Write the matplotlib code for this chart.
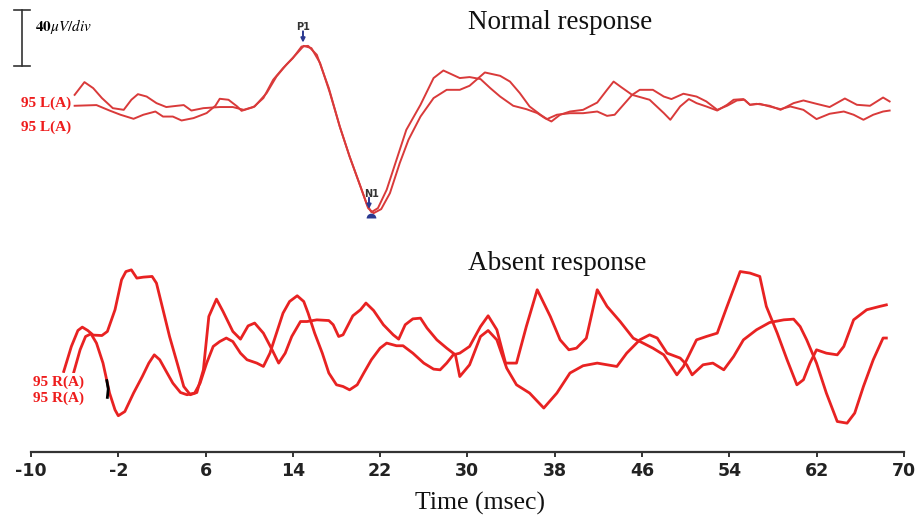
import numpy as np
import matplotlib
matplotlib.use("Agg")
import matplotlib.pyplot as plt
from matplotlib.markers import MarkerStyle

plt.rcParams['axes.unicode_minus'] = False
plt.rcParams['mathtext.fontset'] = 'stix'

# time (msec), amplitude (uV)
normal_a = [(-6.0, 7.1), (-5.1, 16.2), (-4.3, 11.9), (-3.5, 4.8), (-2.5, -2.4), (-1.5, -3.6),
            (-0.8, 3.6), (-0.2, 7.6), (0.6, 5.9), (1.5, 1.2), (2.4, -1.6), (3.4, -0.7),
            (4.0, -0.2), (4.7, -4.1), (5.8, -2.4), (7.3, -1.6), (8.5, -1.6), (9.5, -3.6),
            (10.5, -1.2), (11.6, 8.4), (12.5, 20.2), (13.4, 28.6), (14.4, 36.9), (15.0, 42.1),
            (15.7, 40.5), (16.5, 29.8), (17.4, 8.4), (18.3, -15.5), (19.2, -36.9), (20.2, -58.4),
            (20.8, -71.4), (21.2, -76.7), (21.8, -73.8), (22.6, -60.7), (23.5, -39.3),
            (24.4, -17.9), (25.7, 0.0), (26.9, 19.1), (27.8, 24.5), (29.3, 19.1), (30.2, 19.8),
            (31.2, 18.4), (32.1, 11.9), (33.0, 5.9), (34.2, -0.7), (35.4, -3.1), (36.4, -5.9),
            (37.1, -9.5), (37.7, -11.9), (38.5, -7.1), (39.4, -4.8), (40.6, -3.6), (41.9, 1.6),
            (42.8, 10.7), (43.4, 16.6), (44.1, 12.6), (45.1, 7.1), (46.7, 3.6), (48.0, -5.9),
            (48.6, -10.7), (49.5, -1.2), (50.3, 4.1), (51.0, 1.2), (51.9, -1.2), (52.9, -4.1),
            (53.8, 0.0), (54.4, 3.6), (55.3, 4.1), (55.9, 0.0), (56.8, 0.7), (57.7, -1.2),
            (58.7, -3.1), (59.6, -1.2), (60.8, -3.6), (62.0, -10.2), (63.2, -6.4), (64.5, -4.8),
            (65.4, -7.1), (66.3, -10.7), (67.2, -7.1), (68.1, -4.8), (68.7, -4.1)]

normal_b = [(-6.0, -0.7), (-4.0, -0.2), (-2.8, -4.1), (-1.8, -7.1), (-0.6, -10.0), (0.3, -7.1),
            (1.4, -4.8), (2.1, -8.4), (3.0, -8.4), (3.8, -11.2), (4.9, -9.5), (6.1, -5.9),
            (6.9, -0.7), (7.3, 4.3), (8.1, 3.6), (8.9, -1.2), (9.3, -4.3), (10.4, -1.6),
            (11.3, 4.8), (12.2, 17.9), (13.1, 26.2), (14.0, 33.3), (14.8, 41.6), (15.4, 42.1),
            (16.2, 35.7), (17.3, 11.9), (18.3, -15.5), (19.2, -36.9), (20.2, -58.4), (20.9, -73.8),
            (21.4, -77.4), (22.1, -74.5), (22.9, -63.1), (23.8, -41.6), (24.6, -25.0),
            (25.7, -8.4), (26.9, 4.8), (28.1, 10.7), (29.3, 10.7), (30.2, 13.6), (31.6, 23.1),
            (33.0, 20.7), (33.9, 16.6), (34.8, 8.4), (35.7, -1.2), (36.7, -7.1), (37.3, -10.2),
            (38.2, -7.1), (39.4, -6.0), (40.6, -6.0), (41.9, -4.8), (42.8, -7.9), (43.5, -7.1),
            (44.3, 0.0), (45.1, 7.1), (45.8, 10.7), (47.0, 10.7), (48.0, 5.9), (48.7, 4.1),
            (49.8, 7.9), (51.0, 5.9), (51.9, 2.4), (52.9, -3.6), (53.8, -0.7), (54.7, 3.1),
            (55.4, 3.6), (55.9, 0.0), (56.5, 0.7), (57.7, -0.7), (58.7, -3.6), (59.9, 1.2),
            (60.8, 3.1), (62.0, 0.7), (63.2, -1.6), (64.6, 4.5), (65.7, 0.0), (66.9, -0.7),
            (68.1, 5.2), (68.7, 2.4)]

absent_a = [(-7.0, -15.5), (-6.3, 2.4), (-5.7, 13.8), (-5.3, 16.2), (-4.8, 13.8), (-4.3, 10.5),
            (-3.5, 10.2), (-3.0, 13.1), (-2.3, 28.6), (-1.7, 50.0), (-1.3, 55.9), (-0.8, 57.1),
            (-0.3, 51.2), (0.3, 51.9), (1.1, 52.4), (1.5, 47.6), (2.1, 28.6), (2.7, 9.5),
            (3.4, -9.5), (4.0, -26.2), (4.6, -32.1), (5.2, -30.5), (5.8, -14.3), (6.3, 23.8),
            (7.0, 36.2), (7.6, 27.4), (8.5, 13.1), (9.2, 7.6), (9.9, 17.1), (10.5, 19.1),
            (11.3, 11.9), (12.1, 0.0), (12.7, -9.5), (13.3, -2.4), (13.9, 9.5), (14.7, 20.2),
            (15.3, 20.2), (16.2, 21.4), (17.3, 20.9), (17.7, 17.9), (18.2, 9.5), (18.6, 10.7),
            (19.5, 24.3), (20.2, 28.6), (20.7, 33.4), (21.4, 28.1), (22.3, 17.9), (23.2, 10.7),
            (23.7, 7.6), (24.3, 17.9), (25.0, 22.1), (25.7, 22.6), (26.3, 15.5), (27.2, 7.1),
            (28.1, 1.2), (28.9, -3.6), (29.3, -19.1), (30.2, -10.7), (31.2, 9.5), (31.9, 13.8),
            (32.7, 7.1), (33.6, -13.1), (34.5, -25.0), (35.7, -30.9), (37.0, -41.6), (38.2, -30.9),
            (39.4, -16.6), (40.6, -11.4), (41.9, -9.5), (42.8, -10.7), (43.7, -11.9), (44.6, -2.4),
            (45.8, 7.1), (46.7, 10.7), (47.4, 8.4), (48.3, -2.4), (49.5, -5.9), (50.1, -10.7),
            (50.6, -17.9), (51.6, -10.7), (52.5, -9.5), (53.5, -14.3), (54.4, -4.8), (55.3, 7.1),
            (56.5, 14.3), (57.7, 19.5), (59.0, 21.4), (59.9, 21.9), (60.5, 16.6), (61.1, 7.1),
            (62.0, -9.5), (62.9, -30.9), (63.9, -51.2), (64.8, -52.4), (65.5, -45.2),
            (66.3, -26.2), (67.2, -7.1), (68.1, 8.4), (68.4, 8.4)]

absent_b = [(-6.1, -16.6), (-5.5, 0.0), (-5.0, 9.5), (-4.5, 11.4), (-4.0, 4.8), (-3.4, -9.5),
            (-2.8, -30.9), (-2.3, -42.9), (-2.0, -47.1), (-1.4, -44.1), (-0.6, -30.9), (0.2, -19.1),
            (0.8, -9.5), (1.3, -3.6), (1.8, -7.1), (2.4, -15.5), (3.0, -23.8), (3.7, -30.5),
            (4.3, -32.1), (5.0, -30.9), (5.5, -23.8), (6.1, -9.5), (6.7, 2.4), (7.3, 5.9),
            (7.9, 8.4), (8.5, 5.9), (9.2, -2.4), (9.8, -7.1), (10.7, -9.5), (11.3, -11.9),
            (11.9, -2.4), (12.5, 11.9), (13.1, 26.2), (13.7, 34.5), (14.4, 38.6), (15.0, 34.5),
            (15.4, 26.2), (16.0, 11.9), (16.7, -2.4), (17.3, -16.6), (18.0, -25.0), (18.6, -26.2),
            (19.2, -28.6), (19.9, -25.0), (20.5, -16.6), (21.2, -7.1), (22.0, 1.2), (22.6, 4.8),
            (23.5, 2.9), (24.1, 2.9), (25.0, -2.4), (26.0, -9.5), (26.9, -13.8), (27.5, -14.3),
            (28.1, -9.5), (28.7, -3.6), (29.3, -2.4), (30.2, 2.4), (31.2, 16.6), (31.9, 24.3),
            (32.7, 14.3), (33.5, -9.5), (34.5, -9.5), (35.4, 16.6), (36.4, 42.9), (37.6, 23.8),
            (38.5, 7.1), (39.3, 0.0), (40.0, 1.2), (40.9, 8.3), (41.9, 42.9), (42.8, 31.0),
            (44.0, 20.2), (45.2, 8.3), (46.1, 4.8), (47.0, 1.2), (48.0, -3.6), (48.9, -14.3),
            (49.2, -17.9), (49.8, -11.9), (51.0, 7.1), (51.9, 9.5), (52.9, 11.9), (53.8, 31.0),
            (55.0, 55.9), (55.9, 54.8), (56.8, 52.4), (57.4, 31.0), (58.4, 11.9), (59.3, -7.1),
            (60.2, -25.0), (60.8, -21.4), (61.4, -9.5), (62.0, 0.0), (62.9, -2.4), (63.9, -3.6),
            (64.5, 2.4), (65.4, 21.4), (66.6, 28.6), (67.8, 31.0), (68.4, 32.1)]

xticks = [-10, -2, 6, 14, 22, 30, 38, 46, 54, 62, 70]
normal_offset = 248   # uV, baseline of upper recording
absent_offset = 73    # uV, baseline of lower recording
scale_uv = 40

fig = plt.figure(figsize=(9.18, 5.2), dpi=100)
ax = fig.add_axes([31 / 918, 68 / 520, 872.8 / 918, 452 / 520])

for tr in (normal_a, normal_b):
    t, v = zip(*tr)
    ax.plot(t, np.array(v) + normal_offset, color='#d93a3a', lw=1.4, zorder=2,
            solid_joinstyle='round')
for tr in (absent_a, absent_b):
    t, v = zip(*tr)
    ax.plot(t, np.array(v) + absent_offset, color='#e82222', lw=2.0, zorder=2,
            solid_joinstyle='round')

ax.set_xlim(-10, 70)
ax.set_ylim(0, 452 / 1.4)
ax.set_xticks(xticks)
ax.set_xticklabels([str(x) for x in xticks], fontfamily='DejaVu Sans',
                   fontweight='bold', fontsize=12.5, color='#222222')
ax.tick_params(axis='x', direction='out', length=3.5, width=1.4, color='#333333', pad=4)
ax.set_yticks([])
for s in ('left', 'right', 'top'):
    ax.spines[s].set_visible(False)
ax.spines['bottom'].set_color('#333333')
ax.spines['bottom'].set_linewidth(1.6)

# scale bar
sb_x = -10.82
sb_top = 315.7
ax.plot([sb_x, sb_x], [sb_top - scale_uv, sb_top], color='#333333', lw=1.2, clip_on=False)
for yy in (sb_top - scale_uv, sb_top):
    ax.plot([-11.55, -10.1], [yy, yy], color='#333333', lw=1.2, clip_on=False)
ax.text(-9.63, 304, r'$\mathbf{40}\mu V/div$', fontsize=11, va='center', ha='left')

# titles
serif = 'Liberation Serif'
ax.text(30.1, 306.5, 'Normal response', fontfamily=serif, fontsize=19.5, color='#111111',
        va='center', ha='left')
ax.text(30.1, 135, 'Absent response', fontfamily=serif, fontsize=19.5, color='#111111',
        va='center', ha='left')
fig.text(480 / 918, 1 - 503 / 520, 'Time (msec)', fontfamily=serif, fontsize=18.5,
         color='#111111', ha='center', va='center')

# channel labels
lab = dict(fontfamily=serif, fontweight='bold', fontsize=11, color='#ee1c1c',
           ha='left', va='center', zorder=5)
ax.text(-10.9, 249.3, '95 L(A)', bbox=dict(facecolor='white', edgecolor='none', pad=1.5), **lab)
ax.text(-10.9, 232.1, '95 L(A)', **lab)
ax.text(-9.8, 50.0, '95 R(A)', bbox=dict(facecolor='white', edgecolor='none', pad=1.5), **lab)
ax.text(-9.8, 38.6, '95 R(A)', **lab)
ax.plot([-3.05, -2.92, -3.0], [-22 + absent_offset, -28 + absent_offset, -34 + absent_offset],
        color='black', lw=2, zorder=6)

# peak markers
blue = '#2b3990'
arr = dict(arrowstyle='-|>', color=blue, lw=1.4, mutation_scale=6, shrinkA=0, shrinkB=0)
ax.annotate('', xy=(14.93, 292.4), xytext=(14.93, 300.5), arrowprops=arr)
ax.text(14.93, 303.4, 'P1', fontsize=7, fontweight='bold', color='#333333', ha='center', va='center')
ax.annotate('', xy=(20.98, 173.6), xytext=(20.98, 181.7), arrowprops=arr)
ax.text(21.25, 184.5, 'N1', fontsize=7, fontweight='bold', color='#333333', ha='center', va='center')
ax.plot([21.16], [167.5], marker=MarkerStyle('o', fillstyle='top'), markersize=7,
        color=blue, markerfacecoloralt='none', markeredgewidth=0, zorder=6)

fig.savefig('out.png', dpi=100)
